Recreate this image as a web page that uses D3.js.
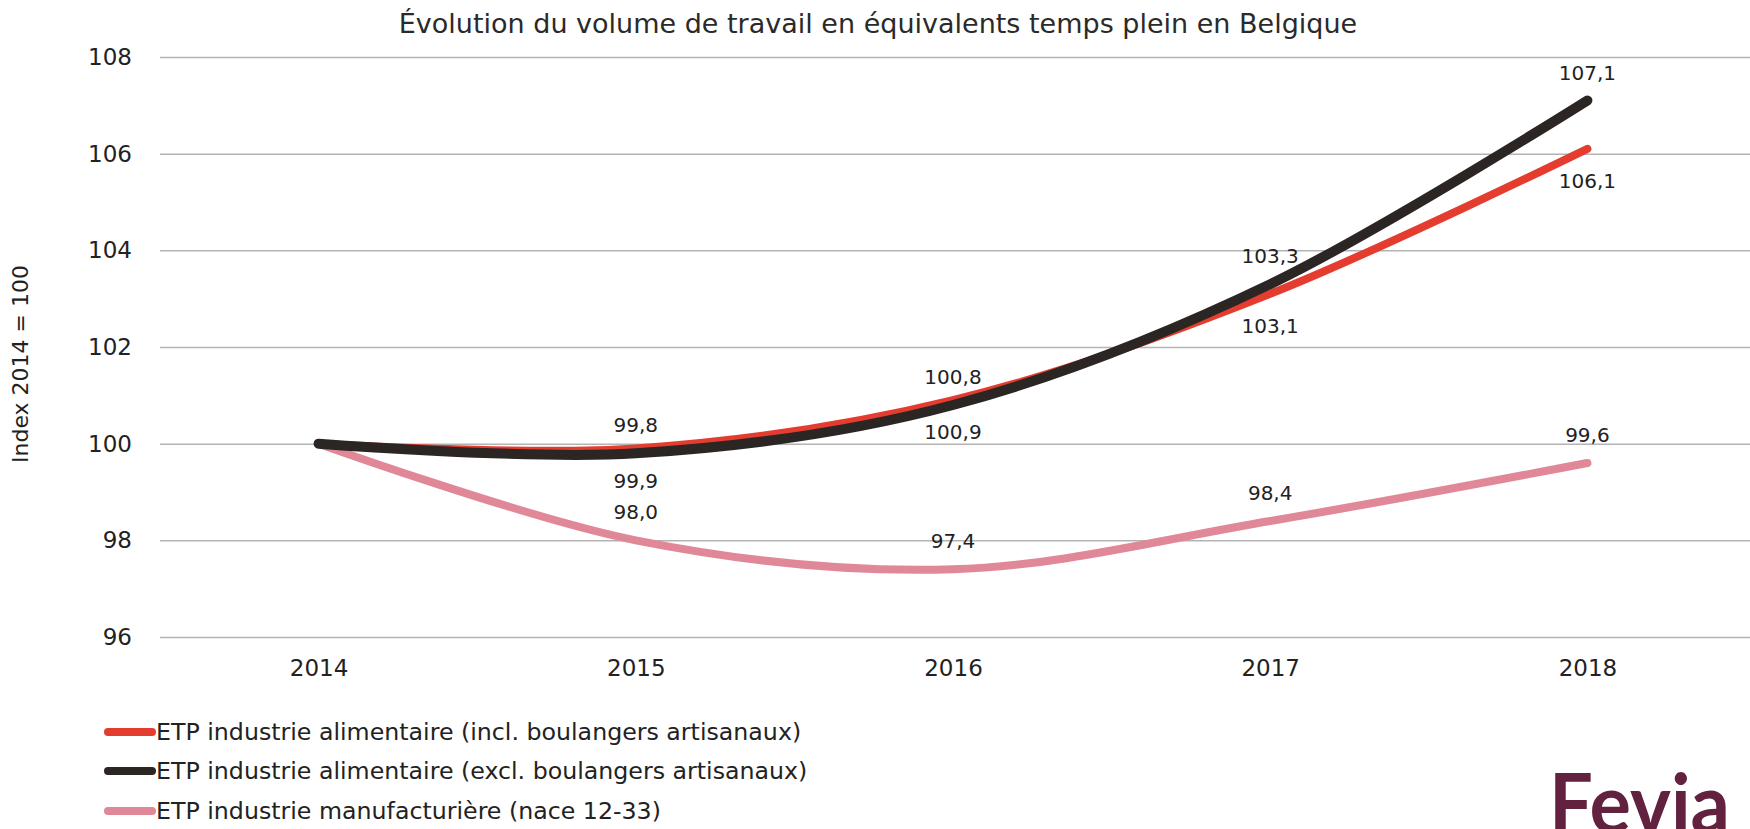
<!DOCTYPE html>
<html>
<head>
<meta charset="utf-8">
<script src="https://cdn.jsdelivr.net/npm/d3@7/dist/d3.min.js"></script>
<style>
  html, body { margin: 0; padding: 0; background: #fff; }
  svg { display: block; }
</style>
</head>
<body>
<svg id="chart" width="1750" height="829"></svg>
<script>
const years = ["2014", "2015", "2016", "2017", "2018"];
const yTicks = [96, 98, 100, 102, 104, 106, 108];
const seriesNames = [
  "ETP industrie alimentaire (incl. boulangers artisanaux)",
  "ETP industrie alimentaire (excl. boulangers artisanaux)",
  "ETP industrie manufacturière (nace 12-33)"
];
const inclValues = [100, 99.9, 100.9, 103.1, 106.1];
const exclValues = [100, 99.8, 100.8, 103.3, 107.1];
const manuValues = [100, 98.0, 97.4, 98.4, 99.6];
const colors = ["#e43d30", "#2b2623", "#e08898"];
const widths = [8, 10, 8];
// label placement: -1 above, +1 below; first point unlabeled
const labelSide = [1, -1, -1];

const svg = d3.select("#chart");
const W = 1750, H = 829;
const fontMain = "'DejaVu Sans', Verdana, sans-serif";

const x = d3.scalePoint().domain(years).range([160, 1746]).padding(0.5);
const y = d3.scaleLinear().domain([96, 108]).range([637, 57]);

// title
svg.append("text")
  .attr("x", 878).attr("y", 33)
  .attr("text-anchor", "middle")
  .attr("font-family", fontMain)
  .attr("font-size", 27)
  .attr("fill", "#2a2a2a")
  .text("Évolution du volume de travail en équivalents temps plein en Belgique");

// gridlines
const yAxis = d3.axisLeft(y).tickValues(yTicks).tickSize(-(W - 160)).tickPadding(28).tickFormat(d3.format("d"));
const gy = svg.append("g").attr("transform", "translate(160,0)").call(yAxis);
gy.select(".domain").remove();
gy.selectAll(".tick line").attr("stroke", "#b3b3b3").attr("stroke-width", 1.5);
gy.selectAll(".tick text")
  .attr("font-family", fontMain).attr("font-size", 23).attr("fill", "#222");

// x axis labels
const xAxis = d3.axisBottom(x).tickSize(0).tickPadding(0);
const gx = svg.append("g").attr("transform", "translate(0,660)").call(xAxis);
gx.select(".domain").remove();
gx.selectAll(".tick text")
  .attr("font-family", fontMain).attr("font-size", 23).attr("fill", "#222");

// y axis title
svg.append("text")
  .attr("transform", "translate(28,364) rotate(-90)")
  .attr("text-anchor", "middle")
  .attr("font-family", fontMain)
  .attr("font-size", 22)
  .attr("fill", "#222")
  .text("Index 2014 = 100");

const allSeries = [inclValues, exclValues, manuValues];
const line = d3.line()
  .x((d, i) => x(years[i]))
  .y(d => y(d))
  .curve(d3.curveCardinal.tension(0));

// draw order: pink, red, black
[2, 0, 1].forEach(si => {
  svg.append("path")
    .datum(allSeries[si])
    .attr("d", line)
    .attr("fill", "none")
    .attr("stroke", colors[si])
    .attr("stroke-width", widths[si])
    .attr("stroke-linecap", "round")
    .attr("stroke-linejoin", "round");
});

// data labels
const fmt = v => d3.format(".1f")(v).replace(".", ",");
allSeries.forEach((vals, si) => {
  vals.forEach((v, i) => {
    if (i === 0) return;
    const off = labelSide[si] < 0 ? -28 : 32;
    svg.append("text")
      .attr("x", x(years[i]))
      .attr("y", y(v) + off)
      .attr("dy", "0.35em")
      .attr("text-anchor", "middle")
      .attr("font-family", fontMain)
      .attr("font-size", 20)
      .attr("fill", "#222")
      .text(fmt(v));
  });
});

// legend
const legendY = [732, 771, 811];
seriesNames.forEach((name, si) => {
  svg.append("line")
    .attr("x1", 108).attr("x2", 152)
    .attr("y1", legendY[si]).attr("y2", legendY[si])
    .attr("stroke", colors[si])
    .attr("stroke-width", 8)
    .attr("stroke-linecap", "round");
  svg.append("text")
    .attr("x", 156).attr("y", legendY[si])
    .attr("dy", "0.35em")
    .attr("font-family", fontMain)
    .attr("font-size", 23.7)
    .attr("fill", "#222")
    .text(name);
});

// logo
svg.append("text")
  .attr("x", 1549).attr("y", 833)
  .attr("font-family", "Lato, sans-serif")
  .attr("font-weight", 700)
  .attr("font-size", 82)
  .attr("textLength", 181)
  .attr("lengthAdjust", "spacingAndGlyphs")
  .attr("fill", "#62213f")
  .text("Fevia");
</script>
</body>
</html>
